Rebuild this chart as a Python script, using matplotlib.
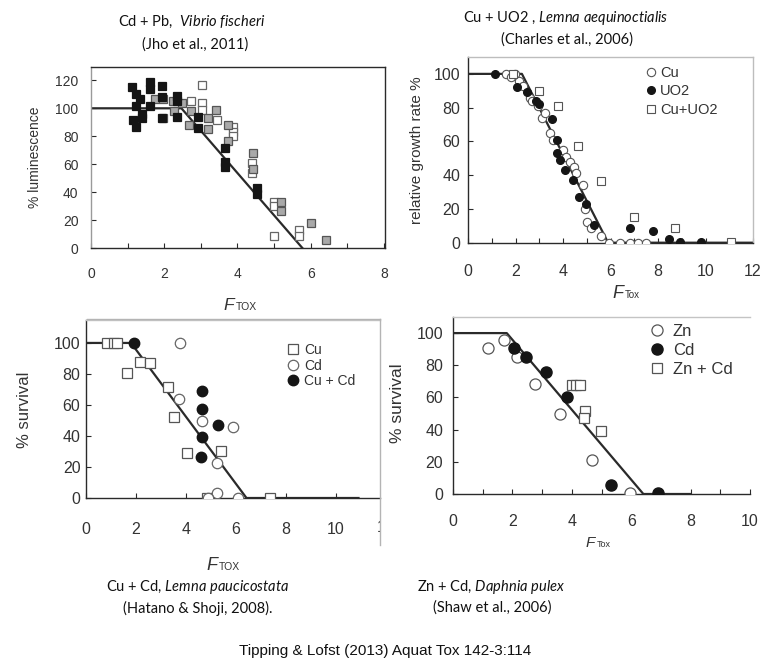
import matplotlib
matplotlib.use('Agg')
import matplotlib.pyplot as plt
from matplotlib.lines import Line2D
from matplotlib.patches import Rectangle

W, H = 764, 668

# --- Cd + Pb, Vibrio fischeri
a_black_x = [1.13, 1.22, 1.35, 1.22, 1.38, 1.38, 1.14, 1.22, 1.6, 1.6, 1.6, 1.93,
             1.93, 1.93, 2.34, 2.34, 2.34, 2.91, 2.91, 3.66, 3.66, 3.66, 4.53, 4.53]
a_black_y = [115, 110, 107, 102, 96, 93, 92, 87, 119, 114, 102, 116,
             108, 93, 109, 105, 94, 94, 86, 72, 62, 58, 43, 39]
a_grey_x = [1.75, 1.98, 1.98, 2.25, 2.27, 2.48, 2.73, 2.68, 3.19, 3.2, 3.41, 3.75,
            3.75, 4.42, 4.42, 5.18, 5.18, 6.01, 6.41]
a_grey_y = [107, 107, 93, 105, 98, 104, 98, 88, 93, 85, 99, 88,
            77, 68, 57, 33, 27, 18, 6]
a_white_x = [2.73, 3.02, 3.02, 3.02, 3.43, 3.89, 3.89, 3.89, 4.4, 4.4, 5.0, 5.0,
             5.0, 5.67, 5.67]
a_white_y = [105, 117, 104, 99, 92, 87, 83, 80, 61, 54, 33, 30, 9, 13, 9]
a_fit_x = [0, 2.47, 5.78]
a_fit_y = [100, 100, 0]

# --- Cu + UO2, Lemna aequinoctialis
b_cu_x = [1.61, 1.82, 1.99, 2.13, 2.32, 2.6, 2.7, 2.95, 3.12, 3.23, 3.44, 3.58,
          4.0, 4.14, 4.28, 4.46, 4.56, 4.84, 4.94, 5.02, 5.16, 5.61, 5.95, 6.4,
          6.8, 7.15, 7.5]
b_cu_y = [100, 98, 100, 96, 93, 86, 84, 81, 74, 77, 65, 61, 55, 51, 48, 45, 41,
          34, 20, 12, 9, 4, 0, 0, 0, 0, 0]
b_uo2_x = [1.12, 2.08, 2.5, 2.88, 2.98, 3.54, 3.76, 3.76, 3.86, 4.07, 4.42, 4.66,
           4.98, 5.3, 6.84, 7.78, 8.45, 8.93, 9.8]
b_uo2_y = [100, 92.5, 89, 84, 82, 73, 61, 53, 49, 43, 37, 27, 23, 10.5, 9, 7,
           2.4, 0.3, 0.3]
b_mix_x = [1.9, 3.0, 3.78, 4.62, 5.6, 6.99, 8.72, 11.06]
b_mix_y = [100, 90, 81, 57.5, 36.6, 15, 8.5, 0.2]
b_fit_x = [0, 2.27, 5.9, 12]
b_fit_y = [100, 100, 0, 0]

# --- Cu + Cd, Lemna paucicostata
c_cu_x = [0.85, 1.1, 1.25, 1.63, 2.16, 2.56, 3.27, 3.53, 4.03, 5.39, 4.83, 7.36]
c_cu_y = [100, 100, 100, 80.6, 88, 87, 71.4, 52, 28.8, 30.5, 0, 0]
c_cd_x = [3.76, 3.72, 4.63, 5.89, 5.23, 5.23, 4.89, 6.09]
c_cd_y = [99.8, 63.9, 49.9, 46, 22.8, 3.2, 0, 0]
c_mix_x = [1.92, 4.64, 4.64, 5.28, 4.63, 4.6]
c_mix_y = [100, 69.2, 57.4, 47, 39.1, 26.3]
c_fit_x = [0, 1.8, 6.42, 10.9]
c_fit_y = [100, 100, 0, 0]

# --- Zn + Cd, Daphnia pulex
d_zn_x = [1.19, 1.72, 2.14, 2.75, 3.6, 4.69, 5.96]
d_zn_y = [90.9, 95.9, 85.3, 68.1, 50, 21.1, 0.8]
d_cd_x = [2.04, 2.46, 3.14, 3.84, 5.31, 6.91]
d_cd_y = [90.5, 85.3, 76, 60.2, 5.8, 0.9]
d_mix_x = [4.0, 4.14, 4.28, 4.44, 4.4, 4.99]
d_mix_y = [67.7, 67.7, 67.7, 51.6, 47.5, 39.1]
d_fit_x = [0, 1.81, 6.41, 7.98]
d_fit_y = [100, 100, 0, 0]

INK = '#2a2a2a'
AX_FONT = 'Liberation Sans'
plt.rcParams['mathtext.fontset'] = 'custom'
plt.rcParams['mathtext.rm'] = 'Lato'
plt.rcParams['mathtext.it'] = 'Lato:italic'

fig = plt.figure(figsize=(W / 100, H / 100), dpi=100)
fig.patch.set_facecolor('white')


def px_axes(left, top, right, bottom):
    return fig.add_axes([left / W, 1 - bottom / H, (right - left) / W,
                         (bottom - top) / H])


def ftext(x, y, s, **kw):
    return fig.text(x / W, 1 - y / H, s, **kw)


def fline(xs, ys, color='#b4b4b4', lw=1.0):
    fig.add_artist(Line2D([x / W for x in xs], [1 - y / H for y in ys],
                          transform=fig.transFigure, color=color, lw=lw))


def style_axes(ax, xlim, ylim, xmajor, xminor, yticks, size, xpad, ypad):
    ax.set_xlim(*xlim)
    ax.set_ylim(*ylim)
    ax.set_xticks(xmajor)
    ax.set_xticks(xminor, minor=True)
    ax.set_yticks(yticks)
    ax.tick_params(which='both', direction='in', length=3.5, width=0.8,
                   color=INK, labelcolor='#333333', labelsize=size)
    ax.tick_params(axis='x', which='major', pad=xpad)
    ax.tick_params(axis='y', pad=ypad)
    for lab in ax.get_xticklabels() + ax.get_yticklabels():
        lab.set_fontfamily(AX_FONT)
    for sp in ax.spines.values():
        sp.set_color(INK)
        sp.set_linewidth(1.0)


def ftox(x, y, sub, fsize, ssize):
    ftext(x, y, 'F', family=AX_FONT, style='italic', size=fsize,
          color='#333333', ha='right', va='baseline')
    ftext(x + 2, y, sub, family=AX_FONT, size=ssize, color='#333333',
          ha='left', va='baseline')


# ---------------- panel A
ax = px_axes(91, 67, 385, 248.3)
ax.plot(a_fit_x, a_fit_y, color=INK, lw=1.6, zorder=2)
ax.plot(a_white_x, a_white_y, ls='none', marker='s', ms=6, mfc='white',
        mec='#666666', mew=0.9, zorder=3)
ax.plot(a_grey_x, a_grey_y, ls='none', marker='s', ms=6, mfc='#a9a9a9',
        mec='#555555', mew=0.9, zorder=3)
ax.plot(a_black_x, a_black_y, ls='none', marker='s', ms=6, mfc='#151515',
        mec='#151515', mew=0.9, zorder=4)
style_axes(ax, (0, 8.03), (0, 129.5), [0, 2, 4, 6, 8], [1, 3, 5, 7],
           range(0, 121, 20), 10, 13.5, 9)
ax.spines['left'].set_color('#9a9a9a')
ftext(35, 157, '% luminescence', family=AX_FONT, size=10, color='#333333',
      rotation=90, ha='center', va='center')
ftox(234, 310, 'TOX', 12.5, 7.5)

# ---------------- panel B
ax = px_axes(468, 57, 753, 242.7)
ax.plot(b_fit_x, b_fit_y, color=INK, lw=1.6, zorder=2)
ax.plot(b_cu_x, b_cu_y, ls='none', marker='o', ms=6, mfc='white',
        mec='#555555', mew=0.8, zorder=3, label='Cu')
ax.plot(b_uo2_x, b_uo2_y, ls='none', marker='o', ms=5.5, mfc='#151515',
        mec='#151515', zorder=4, label='UO2')
ax.plot(b_mix_x, b_mix_y, ls='none', marker='s', ms=5.5, mfc='white',
        mec='#555555', mew=0.8, zorder=3, label='Cu+UO2')
style_axes(ax, (0, 12), (0, 110), range(0, 13, 2), range(1, 12, 2),
           range(0, 101, 20), 11.5, 15, 5.5)
ax.spines['top'].set_color('#bdbdbd')
ax.spines['right'].set_color('#bdbdbd')
leg = ax.legend(loc='upper left', bbox_to_anchor=(647 / W, 1 - 66 / H),
                bbox_transform=fig.transFigure, frameon=False, borderpad=0,
                borderaxespad=0, handlelength=0.6, handletextpad=0.3,
                labelspacing=0.3, prop={'family': AX_FONT, 'size': 10.5})
for t in leg.get_texts():
    t.set_color('#333333')
ftext(417, 150, 'relative growth rate %', family=AX_FONT, size=11,
      color='#333333', rotation=90, ha='center', va='center')
ftox(623, 298, 'Tox', 13, 7)

# ---------------- panel C
ax = px_axes(86, 320, 380, 498)
ax.plot(c_fit_x, c_fit_y, color=INK, lw=1.6, zorder=2)
ax.plot(c_cu_x, c_cu_y, ls='none', marker='s', ms=7.5, mfc='white',
        mec='#555555', mew=0.9, zorder=3, label='Cu')
ax.plot(c_cd_x, c_cd_y, ls='none', marker='o', ms=7.5, mfc='white',
        mec='#666666', mew=0.9, zorder=3, label='Cd')
ax.plot(c_mix_x, c_mix_y, ls='none', marker='o', ms=7.5, mfc='#151515',
        mec='#151515', zorder=4, label='Cu + Cd')
style_axes(ax, (0, 11.76), (0, 114.8), range(0, 11, 2), [],
           range(0, 101, 20), 11.5, 17, 4)
ax.spines['top'].set_color('#c4c4c4')
ax.spines['right'].set_visible(False)
leg = ax.legend(loc='upper left', bbox_to_anchor=(288 / W, 1 - 343 / H),
                bbox_transform=fig.transFigure, frameon=False, borderpad=0,
                borderaxespad=0, handlelength=0.7, handletextpad=0.45,
                labelspacing=0.12, prop={'family': AX_FONT, 'size': 10})
for t in leg.get_texts():
    t.set_color('#333333')
cut = ax.text(12, -0.163, '12', transform=ax.get_xaxis_transform(),
              family=AX_FONT, size=11.5, color='#333333', ha='center',
              va='center', clip_on=True)
cut.set_clip_path(Rectangle((0, 0), 380 / W, 1, transform=fig.transFigure))
ftext(25, 410, '% survival', family=AX_FONT, size=12, color='#333333',
      rotation=90, ha='center', va='center')
ftox(217, 570, 'TOX', 13, 7.5)

# ---------------- panel D
ax = px_axes(453, 317, 750, 494)
ax.plot(d_fit_x, d_fit_y, color=INK, lw=1.6, zorder=2)
ax.plot(d_zn_x, d_zn_y, ls='none', marker='o', ms=8, mfc='white',
        mec='#555555', mew=0.9, zorder=3, label='Zn')
ax.plot(d_cd_x, d_cd_y, ls='none', marker='o', ms=8, mfc='#151515',
        mec='#151515', zorder=4, label='Cd')
ax.plot(d_mix_x, d_mix_y, ls='none', marker='s', ms=7, mfc='white',
        mec='#555555', mew=0.9, zorder=3, label='Zn + Cd')
style_axes(ax, (0, 10), (0, 110), range(0, 11, 2), range(1, 10, 2),
           range(0, 101, 20), 11.5, 14.5, 7)
ax.spines['top'].set_color('#c4c4c4')
ax.spines['right'].set_visible(False)
leg = ax.legend(loc='upper left', bbox_to_anchor=(651 / W, 1 - 324 / H),
                bbox_transform=fig.transFigure, frameon=False, borderpad=0,
                borderaxespad=0, handlelength=0.7, handletextpad=0.6,
                labelspacing=0.25, prop={'family': AX_FONT, 'size': 12})
for t in leg.get_texts():
    t.set_color('#333333')
ftext(398, 403, '% survival', family=AX_FONT, size=12.5, color='#333333',
      rotation=90, ha='center', va='center')
ftox(595, 547, 'Tox', 11, 6.5)

# image frames of the composite
fline([87, 380], [319, 319])
fline([380, 380], [319, 545])

# captions
cap = dict(family='Lato', size=10.5, color='#111111', ha='center', va='center')
ftext(192, 22, r'Cd + Pb,  $\mathit{Vibrio\ fischeri}$', **cap)
ftext(195, 45, '(Jho et al., 2011)', **cap)
ftext(566, 18, r'Cu + UO2 , $\mathit{Lemna\ aequinoctialis}$', **cap)
ftext(567, 40, '(Charles et al., 2006)', **cap)
ftext(198, 587, r'Cu + Cd, $\mathit{Lemna\ paucicostata}$', **cap)
ftext(198, 608, '(Hatano & Shoji, 2008).', **cap)
ftext(491, 587, r'Zn + Cd, $\mathit{Daphnia\ pulex}$', **cap)
ftext(492, 608, '(Shaw et al., 2006)', **cap)
ftext(385, 651, 'Tipping & Lofst (2013) Aquat Tox 142-3:114',
      family=AX_FONT, size=11, color='#111111', ha='center', va='center')

plt.savefig('out.png', dpi=100, facecolor='white')
